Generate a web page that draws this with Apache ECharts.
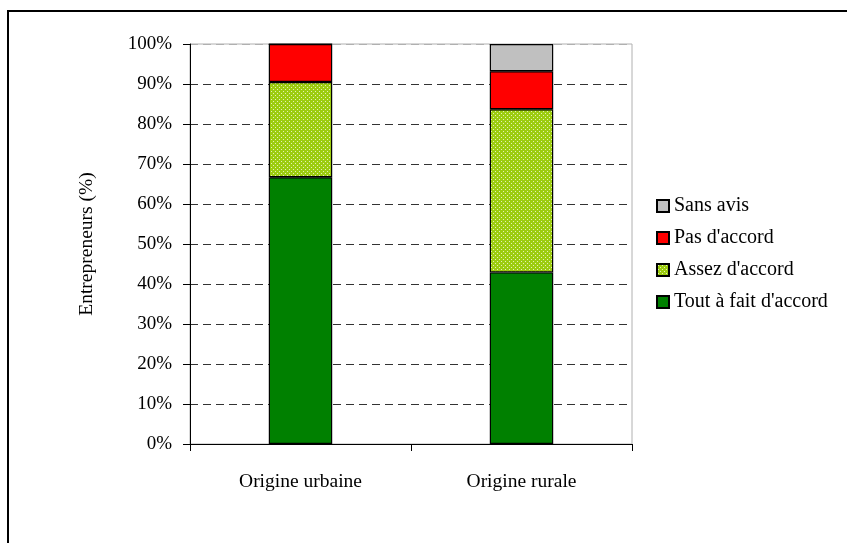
<!DOCTYPE html>
<html>
<head>
<meta charset="utf-8">
<script src="https://cdn.jsdelivr.net/npm/echarts@6/dist/echarts.min.js"></script>
<style>
  html, body { margin: 0; padding: 0; background: #fff; }
  #chart-panel { width: 847px; height: 543px; }
</style>
</head>
<body>
<div id="chart-panel"></div>
<script>
var categories = ['Origine urbaine', 'Origine rurale'];
var toutAFait = [66.7, 42.9];
var assez = [23.8, 40.8];
var pasAccord = [9.5, 9.5];
var sansAvis = [0, 6.8];
var yTicks = [0, 10, 20, 30, 40, 50, 60, 70, 80, 90, 100];

var chart = document.getElementById('chart-panel');
var myChart = echarts.init(chart);

// lime tile with a pale dot, for "Assez d'accord"
var tile = document.createElement('canvas');
tile.width = 4;
tile.height = 4;
var ctx = tile.getContext('2d');
ctx.fillStyle = '#9ccc10';
ctx.fillRect(0, 0, 4, 4);
ctx.fillStyle = '#e4f2b4';
ctx.fillRect(1, 1, 1, 1);
ctx.fillRect(3, 3, 1, 1);

var font = "'Liberation Serif', 'Times New Roman', serif";
var gridColors = yTicks.map(function (v) { return v === 100 ? '#b0b0b0' : '#333'; });

function barSeries(name, data, color) {
  return {
    name: name,
    type: 'bar',
    stack: 'total',
    barWidth: '28.7%',
    data: data,
    itemStyle: { color: color, borderColor: '#000', borderWidth: 1.2 },
    emphasis: { disabled: true }
  };
}

var option = {
  animation: false,
  textStyle: { fontFamily: font, color: '#000' },
  graphic: [{
    type: 'rect',
    shape: { x: 8, y: 11, width: 900, height: 600 },
    style: { fill: null, stroke: '#000', lineWidth: 2 },
    silent: true
  }],
  grid: {
    left: 190, right: 215, top: 44, bottom: 99,
    show: true, borderColor: '#b0b0b0', borderWidth: 1, backgroundColor: 'transparent'
  },
  legend: {
    orient: 'vertical',
    left: 651,
    top: 191,
    itemWidth: 12,
    itemHeight: 12,
    itemGap: 12,
    icon: 'rect',
    textStyle: { fontFamily: font, fontSize: 20, color: '#000' },
    data: ['Sans avis', "Pas d'accord", "Assez d'accord", "Tout à fait d'accord"]
  },
  xAxis: {
    type: 'category',
    data: categories,
    axisLine: { lineStyle: { color: '#000' } },
    axisTick: { show: true, alignWithLabel: false, length: 7, lineStyle: { color: '#000' } },
    axisLabel: { fontFamily: font, fontSize: 19.5, color: '#000', margin: 28 }
  },
  yAxis: {
    type: 'value',
    min: 0,
    max: 100,
    interval: 10,
    name: 'Entrepreneurs (%)',
    nameLocation: 'middle',
    nameGap: 93,
    nameTextStyle: { fontFamily: font, fontSize: 19.5, color: '#000' },
    axisLine: { show: true, lineStyle: { color: '#000' } },
    axisTick: { show: true, length: 7, lineStyle: { color: '#000' } },
    axisLabel: { formatter: '{value}%', fontFamily: font, fontSize: 19, color: '#000', margin: 18 },
    splitLine: { show: true, lineStyle: { color: gridColors, type: [8, 5], width: 1.2 } }
  },
  series: [
    barSeries("Tout à fait d'accord", toutAFait, '#008000'),
    barSeries("Assez d'accord", assez, { image: tile, repeat: 'repeat' }),
    barSeries("Pas d'accord", pasAccord, '#ff0000'),
    barSeries('Sans avis', sansAvis, '#c0c0c0')
  ]
};

myChart.setOption(option);
</script>
</body>
</html>
